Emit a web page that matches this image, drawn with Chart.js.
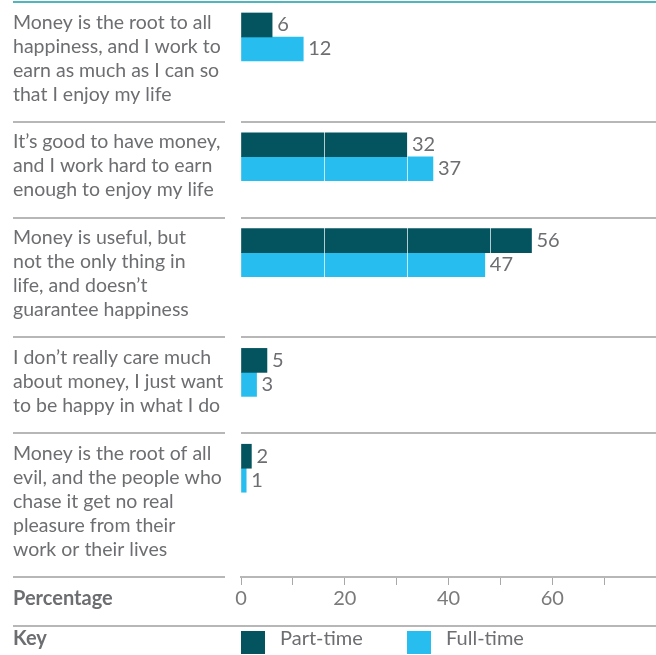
<!DOCTYPE html>
<html>
<head>
<meta charset="utf-8">
<script src="https://cdn.jsdelivr.net/npm/chart.js@4.4.1/dist/chart.umd.min.js"></script>
<style>
  html, body { margin: 0; padding: 0; background: #ffffff; }
  canvas { display: block; }
</style>
</head>
<body>
<canvas id="chart" width="656" height="655"></canvas>
<script>
// Survey answers, one entry per statement (each entry holds the wrapped lines)
const CATEGORY_LINES = [
  ['Money is the root to all', 'happiness, and I work to', 'earn as much as I can so', 'that I enjoy my life'],
  ['It\u2019s good to have money,', 'and I work hard to earn', 'enough to enjoy my life'],
  ['Money is useful, but', 'not the only thing in', 'life, and doesn\u2019t', 'guarantee happiness'],
  ['I don\u2019t really care much', 'about money, I just want', 'to be happy in what I do'],
  ['Money is the root of all', 'evil, and the people who', 'chase it get no real', 'pleasure from their', 'work or their lives']
];
const PART_TIME = [6, 32, 56, 5, 2];
const FULL_TIME = [12, 37, 47, 3, 1];
const SERIES_NAMES = ['Part-time', 'Full-time'];
const X_TICK_LABELS = ['0', '20', '40', '60'];
const AXIS_TITLE = 'Percentage';
const KEY_TITLE = 'Key';

// Vertical layout in "text line" units: each statement gets its lines plus one spare line
const bandSize = CATEGORY_LINES.map(l => l.length + 1);
const bandStart = bandSize.map((_, i) => bandSize.slice(0, i).reduce((a, b) => a + b, 0));
const Y_MAX = bandSize.reduce((a, b) => a + b, 0);
const BAR_PAIR_OFFSET = 1.46;   // centre of the pair of bars below the band's top rule
const FIRST_LINE_OFFSET = 0.85; // centre of the first text line below the band's top rule
const barPos = bandStart.map(s => s + BAR_PAIR_OFFSET);
const labelPos = CATEGORY_LINES.map((l, i) => bandStart[i] + FIRST_LINE_OFFSET + (l.length - 1) / 2);

const FONT = 'Lato, "Open Sans", sans-serif';
const TEXT = '#6d6e71';
const RULE = '#b7b7b7';
const TEAL_RULE = '#4fb6c0';
const COLORS = ['#03545f', '#27beef'];
const LEFT = 13;
const LABEL_RULE_END = 225;

Chart.defaults.font.family = FONT;
Chart.defaults.color = TEXT;

function noPadding(scale) {
  scale.paddingTop = 0;
  scale.paddingBottom = 0;
  scale.paddingLeft = 0;
  scale.paddingRight = 0;
}

const frame = {
  id: 'frame',
  afterDraw(chart) {
    const { ctx, chartArea: a, width } = chart;
    const yS = chart.scales.y;
    ctx.save();

    // top rule
    ctx.fillStyle = TEAL_RULE;
    ctx.fillRect(LEFT, a.top - 1, width - LEFT, 2);

    // rules between statements
    ctx.fillStyle = RULE;
    bandStart.forEach((s, i) => {
      if (i === 0) return;
      const py = Math.round(yS.getPixelForValue(s));
      ctx.fillRect(LEFT, py - 1, LABEL_RULE_END - LEFT, 2);
      ctx.fillRect(a.left, py - 1, width - a.left, 2);
    });
    ctx.fillRect(LEFT, a.bottom - 1, LABEL_RULE_END - LEFT, 2);

    // value labels at the end of each bar
    ctx.fillStyle = TEXT;
    ctx.font = '20px ' + FONT;
    ctx.textBaseline = 'middle';
    ctx.textAlign = 'left';
    chart.data.datasets.forEach((ds, di) => {
      chart.getDatasetMeta(di).data.forEach((bar, i) => {
        ctx.fillText(String(ds.data[i].x), bar.x + 5, bar.y);
      });
    });

    // axis title row
    ctx.font = 'bold 20px ' + FONT;
    ctx.fillText(AXIS_TITLE, LEFT, a.bottom + 22);

    // key row
    const keyTop = a.bottom + 48;
    ctx.fillStyle = RULE;
    ctx.fillRect(LEFT, keyTop, width - LEFT, 2);
    ctx.fillStyle = TEXT;
    ctx.fillText(KEY_TITLE, LEFT, keyTop + 14);
    ctx.font = '20px ' + FONT;
    chart.data.datasets.forEach((ds, di) => {
      const x = a.left + di * 166;
      ctx.fillStyle = ds.backgroundColor;
      ctx.fillRect(x, keyTop + 6, 24, 23);
      ctx.fillStyle = TEXT;
      ctx.fillText(ds.label, x + 39, keyTop + 14);
    });
    ctx.restore();
  }
};

new Chart(document.getElementById('chart'), {
  type: 'bar',
  data: {
    datasets: [
      { label: SERIES_NAMES[0], data: PART_TIME.map((v, i) => ({ x: v, y: barPos[i] })), backgroundColor: COLORS[0] },
      { label: SERIES_NAMES[1], data: FULL_TIME.map((v, i) => ({ x: v, y: barPos[i] })), backgroundColor: COLORS[1] }
    ]
  },
  options: {
    indexAxis: 'y',
    responsive: false,
    animation: false,
    devicePixelRatio: 1,
    barThickness: 24,
    borderWidth: 0,
    layout: { padding: { left: LEFT, top: 2, right: 0, bottom: 28 } },
    plugins: { legend: { display: false }, tooltip: { enabled: false } },
    scales: {
      y: {
        type: 'linear', display: false, reverse: true, offset: false, min: 0, max: Y_MAX
      },
      yl: {
        type: 'linear', position: 'left', reverse: true, offset: false, min: 0, max: Y_MAX,
        grid: { display: false, drawTicks: false, offset: false },
        border: { display: false },
        afterBuildTicks(scale) { scale.ticks = labelPos.map(v => ({ value: v })); },
        afterFit(scale) { scale.width = 241 - LEFT; noPadding(scale); },
        ticks: {
          autoSkip: false, crossAlign: 'far', padding: 0, color: TEXT,
          font: { size: 19.5, lineHeight: 24 / 19.5 },
          callback: (v, i) => CATEGORY_LINES[i]
        }
      },
      x: {
        type: 'linear', position: 'bottom', min: 0, max: 80,
        grid: { drawOnChartArea: false, drawTicks: true, tickLength: 8, color: '#a8a8a8', lineWidth: 1, z: 2 },
        border: { display: true, color: RULE, width: 2, z: 2 },
        afterFit(scale) { scale.height = 50; noPadding(scale); },
        ticks: {
          stepSize: 10, autoSkip: false, maxRotation: 0, padding: 2, color: '#7a7a7a',
          font: { size: 20, lineHeight: 1.2 },
          callback: v => X_TICK_LABELS.includes(String(v)) ? String(v) : ''
        }
      },
      xg: {
        type: 'linear', position: 'top', min: 0, max: 80,
        grid: {
          drawTicks: false, lineWidth: 1, z: 1,
          color: c => (c.tick && (c.tick.value === 0 || c.tick.value === 80)) ? 'rgba(0,0,0,0)' : 'rgba(255,255,255,0.7)'
        },
        border: { display: false },
        afterFit(scale) { scale.height = 0; noPadding(scale); },
        ticks: { display: false, stepSize: 16 }
      }
    }
  },
  plugins: [frame]
});
</script>
</body>
</html>
